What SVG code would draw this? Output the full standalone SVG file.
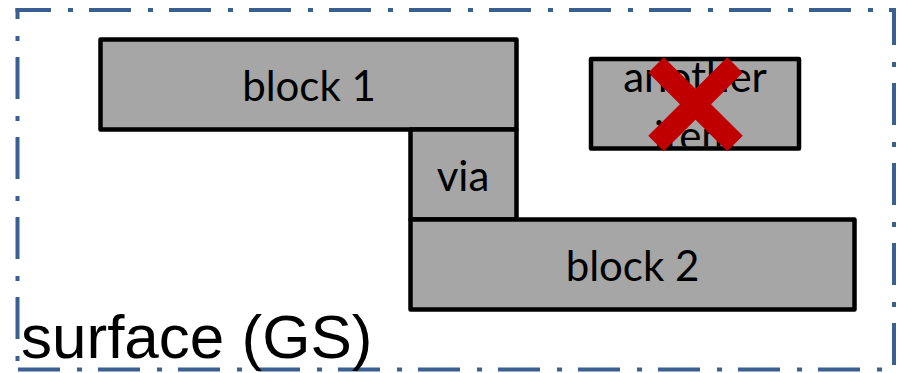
<svg xmlns="http://www.w3.org/2000/svg" width="898" height="373" viewBox="0 0 898 373">
  <style>
    .frame { fill: none; stroke: #3A6093; stroke-width: 4; stroke-dasharray: 42 17 5 16; }
    .block { fill: #A6A6A6; stroke: #000000; stroke-width: 4.5; stroke-linejoin: round; }
    .label { font-family: Lato, "Open Sans", "Liberation Sans", sans-serif; font-size: 42px; fill: #000000; text-anchor: middle; }
    .title { font-family: "Liberation Sans", Arial, sans-serif; font-size: 62px; fill: #000000; }
    .cross { stroke: #C00000; stroke-width: 22; stroke-linecap: butt; }
  </style>
  <defs>
    <clipPath id="another-clip">
      <rect x="593" y="61" width="204" height="85.5"/>
    </clipPath>
  </defs>

  <!-- dash-dot surface outline, one line per side -->
  <g id="surface">
    <line class="frame" x1="15.5" y1="10" x2="896" y2="10" stroke-dashoffset="6.5"/>
    <line class="frame" x1="894" y1="8" x2="894" y2="372" stroke-dashoffset="5"/>
    <line class="frame" x1="15.5" y1="369.5" x2="896" y2="369.5" stroke-dashoffset="77.5"/>
    <line class="frame" x1="17.5" y1="8" x2="17.5" y2="372" stroke-dashoffset="31"/>
    <text class="title" x="21" y="358">surface (GS)</text>
  </g>

  <g id="connectors"></g>

  <g id="block1">
    <rect class="block" x="100.5" y="39.5" width="416" height="90"/>
    <text class="label" x="309" y="101">block 1</text>
  </g>

  <g id="via">
    <rect class="block" x="410.5" y="129.5" width="106" height="90"/>
    <text class="label" x="463" y="191">via</text>
  </g>

  <g id="block2">
    <rect class="block" x="410.5" y="219.5" width="444" height="90"/>
    <text class="label" x="632.5" y="281">block 2</text>
  </g>

  <g id="another">
    <rect class="block" x="591" y="59" width="208" height="89.5"/>
    <g clip-path="url(#another-clip)">
      <text class="label" x="695" y="92">another</text>
      <text class="label" x="695" y="151">item</text>
    </g>
    <line class="cross" x1="656" y1="65" x2="735" y2="143.5"/>
    <line class="cross" x1="735" y1="65" x2="656" y2="143.5"/>
  </g>
</svg>
